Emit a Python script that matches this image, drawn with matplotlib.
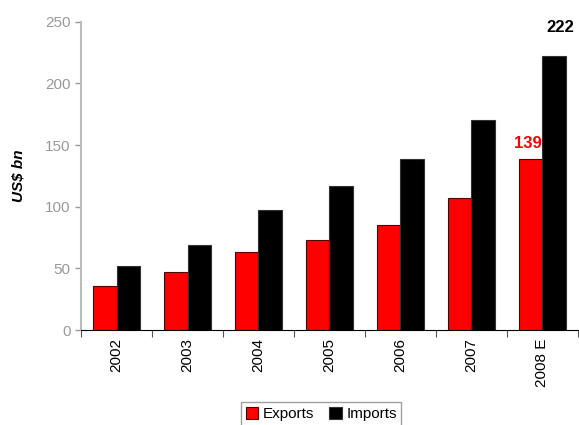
import numpy as np
import matplotlib.pyplot as plt

plt.rcParams['font.family'] = ['Liberation Sans', 'DejaVu Sans']

# Trade data (US$ bn)
years = ['2002', '2003', '2004', '2005', '2006', '2007', '2008 E']
exports = [36, 47, 63, 73, 85, 107, 139]
imports = [52, 69, 97, 117, 139, 170, 222]

fig = plt.figure(figsize=(5.79, 4.25), dpi=100)
ax = fig.add_axes([0.14, 0.2235, 0.858, 0.7255])

x = np.arange(len(years)) + 0.5
w = 0.33
ax.bar(x - w / 2, exports, w, color='#ff0000', edgecolor='#550000', linewidth=0.8, label='Exports')
ax.bar(x + w / 2, imports, w, color='#000000', edgecolor='#333333', linewidth=0.8, label='Imports')

# value labels for the last year
ax.text(x[-1] - w / 2 - 0.04, exports[-1] + 6, str(exports[-1]), color='#ff0000',
        fontsize=12, fontweight='bold', ha='center', va='bottom')
ax.text(x[-1] + w / 2 + 0.09, imports[-1] + 17, str(imports[-1]), color='black',
        fontsize=12, fontweight='bold', ha='center', va='bottom')

ax.set_xlim(0, len(years))
ax.set_ylim(0, 250)
ax.set_yticks(range(0, 251, 50))
ax.tick_params(axis='y', colors='#999999', labelsize=11, length=4, width=1)

ax.set_xticks(range(len(years) + 1))
ax.set_xticklabels([])
ax.set_xticks(x, minor=True)
ax.set_xticklabels(years, minor=True, rotation=90, fontsize=11)
ax.tick_params(axis='x', which='major', length=5, direction='out', colors='#555555')
ax.tick_params(axis='x', which='minor', length=0, pad=6, labelcolor='black')

for s in ['top', 'right']:
    ax.spines[s].set_visible(False)
ax.spines['left'].set_color('#bbbbbb')
ax.spines['left'].set_linewidth(1.5)
ax.spines['bottom'].set_color('black')

ax.set_ylabel('US$ bn', fontsize=11, fontweight='bold', style='italic', labelpad=14)

leg = fig.legend(loc='center', bbox_to_anchor=(0.555, 0.026), ncol=2, frameon=True,
                 fancybox=False, edgecolor='#888888', fontsize=11,
                 handlelength=0.8, handleheight=0.8, handletextpad=0.3,
                 columnspacing=1.0, borderpad=0.3)

fig.savefig('out.png', dpi=100)
